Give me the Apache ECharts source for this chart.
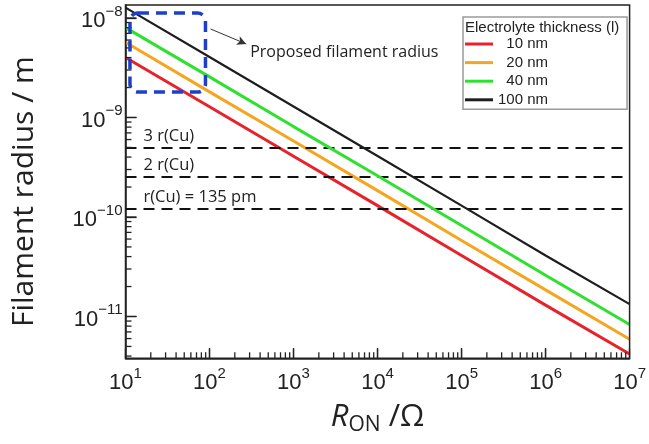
<!DOCTYPE html>
<html><head><meta charset="utf-8">
<script src="https://cdn.jsdelivr.net/npm/echarts@6/dist/echarts.min.js"></script>
<style>html,body{margin:0;padding:0;background:#fff}#c{width:649px;height:444px;background:#fff}</style>
</head><body><div id="c"></div>
<script>
// ---- data ----
const resistance = [10, 100, 1e3, 1e4, 1e5, 1e6, 1e7];
const radius10nm  = [4.0e-9, 1.28e-9, 4.07e-10, 1.30e-10, 4.1e-11, 1.3e-11, 4.2e-12];
const radius20nm  = [5.7e-9, 1.81e-9, 5.8e-10, 1.84e-10, 5.8e-11, 1.85e-11, 5.9e-12];
const radius40nm  = [8.0e-9, 2.56e-9, 8.1e-10, 2.6e-10, 8.2e-11, 2.6e-11, 8.3e-12];
const radius100nm = [1.27e-8, 4.05e-9, 1.29e-9, 4.1e-10, 1.3e-10, 4.1e-11, 1.33e-11];
const seriesNames = ['10 nm', '20 nm', '40 nm', '100 nm'];
const refLevels = [4.97e-10, 2.54e-10, 1.20e-10];
const refLabels = ['3 r(Cu)', '2 r(Cu)', 'r(Cu) = 135 pm'];
const xMajorTicks = [10, 100, 1e3, 1e4, 1e5, 1e6, 1e7];
const yMajorTicks = [1e-12, 1e-11, 1e-10, 1e-9, 1e-8];
const xRange = [10, 1e7];
const yRange = [3.8e-12, 1.35e-8];
const boxX = [11.3, 89.5];
const boxY = [1.12e-8, 1.80e-9];
const arrowX = [103, 273];
const arrowY = [7.75e-9, 5.48e-9];
const noteAt = [305, 4.55e-9];
const noteText = 'Proposed filament radius';
const legendTitle = 'Electrolyte thickness (l)';
const yTitle = 'Filament radius / m';

const colors = ['#e8222a', '#f5a51f', '#2fe02f', '#1e1e1e'];
const widths = [3, 3, 3, 2.2];
const allRadius = [radius10nm, radius20nm, radius40nm, radius100nm];

function minorOf(majors, lo, hi) {
  const out = [];
  majors.forEach(m => { for (let k = 2; k <= 9; k++) { const v = +(m * k).toPrecision(6); if (v > lo && v < hi) out.push(v); } });
  return out;
}
const xMinor = minorOf(xMajorTicks, xRange[0], xRange[1]);
const yMinor = minorOf(yMajorTicks, yRange[0], yRange[1]);
const yMajorIn = yMajorTicks.filter(v => v > yRange[0] && v < yRange[1]);
const xMajorIn = xMajorTicks.filter(v => v > xRange[0] && v < xRange[1]);

// tick rows: [x, y, length, direction (0 = up from bottom edge, 1 = right from left edge)]
const tickRows = []
  .concat(xMajorIn.map(v => [v, yRange[0], 10, 0]))
  .concat(xMinor.map(v => [v, yRange[0], 6, 0]))
  .concat(yMajorIn.map(v => [xRange[0], v, 11, 1]))
  .concat(yMinor.map(v => [xRange[0], v, 6, 1]));

function powLabel(v) {
  const e = Math.round(Math.log10(v));
  return '{b|10}{s|' + (e < 0 ? '\u2212' + (-e) : e) + '}';
}
const labelRich = {
  b: { fontSize: 22, fontFamily: 'Liberation Sans', color: '#222', lineHeight: 28, verticalAlign: 'bottom' },
  s: { fontSize: 15, fontFamily: 'Liberation Sans', color: '#222', lineHeight: 15, verticalAlign: 'top' }
};

const chart = echarts.init(document.getElementById('c'), null, { renderer: 'canvas' });

const series = seriesNames.map((name, i) => ({
  name, type: 'line', xAxisIndex: 0, yAxisIndex: 0,
  data: resistance.map((x, j) => [x, allRadius[i][j]]),
  showSymbol: false, symbol: 'none', silent: true,
  color: colors[i],
  lineStyle: { color: colors[i], width: widths[i] },
  z: 3 + i
}));
series[0].markLine = {
  silent: true, symbol: ['none', 'none'],
  lineStyle: { color: '#111', width: 2, type: [11, 7] },
  label: { show: true, position: 'insideStartTop', formatter: '{b}', color: '#222', fontSize: 16.5, fontFamily: 'Open Sans', distance: [18, 3] },
  data: refLevels.map((v, i) => [{ coord: [xRange[0], v], name: refLabels[i] }, { coord: [xRange[1], v] }])
};
series[3].markLine = {
  silent: true,
  symbol: ['none', 'arrow'], symbolSize: [7, 9],
  lineStyle: { color: '#333', width: 1, type: 'solid' },
  label: { show: false },
  data: [[{ coord: [arrowX[0], arrowY[0]] }, { coord: [arrowX[1], arrowY[1]] }]]
};
// axis tick marks (inside), placed through the axes' own scales
series.push({
  type: 'custom', silent: true, z: 8, xAxisIndex: 0, yAxisIndex: 0,
  encode: { x: 0, y: 1 },
  data: tickRows,
  renderItem: (params, api) => {
    const p = api.coord([api.value(0), api.value(1)]);
    const len = api.value(2);
    const horiz = api.value(3) === 1;
    return { type: 'line',
      shape: horiz ? { x1: p[0], y1: p[1], x2: p[0] + len, y2: p[1] } : { x1: p[0], y1: p[1], x2: p[0], y2: p[1] - len },
      style: { stroke: '#222', lineWidth: 1.3, fill: null } };
  }
});
// plot frame
series.push({
  type: 'custom', silent: true, z: 8, xAxisIndex: 0, yAxisIndex: 0,
  encode: { x: [0, 2], y: [1, 3] },
  data: [[xRange[0], yRange[1], xRange[1], yRange[0]]],
  renderItem: (params, api) => {
    const p1 = api.coord([api.value(0), api.value(1)]);
    const p2 = api.coord([api.value(2), api.value(3)]);
    return { type: 'rect', shape: { x: p1[0], y: p1[1], width: p2[0] - p1[0], height: p2[1] - p1[1] },
      style: { fill: null, stroke: '#222', lineWidth: 1.5 } };
  }
});
// dashed rounded annotation box
series.push({
  type: 'custom', silent: true, z: 10, xAxisIndex: 0, yAxisIndex: 0,
  encode: { x: [0, 2], y: [1, 3] },
  data: [[boxX[0], boxY[0], boxX[1], boxY[1]]],
  renderItem: (params, api) => {
    const p1 = api.coord([api.value(0), api.value(1)]);
    const p2 = api.coord([api.value(2), api.value(3)]);
    return { type: 'rect', shape: { x: p1[0], y: p1[1], width: p2[0] - p1[0], height: p2[1] - p1[1], r: 8 },
      style: { fill: null, stroke: '#1e40c8', lineWidth: 3.5, lineDash: [11, 7] } };
  }
});
// annotation text
series.push({
  type: 'custom', silent: true, z: 10, xAxisIndex: 0, yAxisIndex: 0,
  encode: { x: 0, y: 1 },
  data: [noteAt],
  renderItem: (params, api) => {
    const p = api.coord([api.value(0), api.value(1)]);
    return { type: 'text', x: p[0], y: p[1],
      style: { text: noteText, font: '16px "Open Sans"', fill: '#222', verticalAlign: 'middle', align: 'left' } };
  }
});

chart.setOption({
  animation: false,
  grid: { left: 125.5, right: 16, top: 5, bottom: 85.7 },
  title: {
    text: legendTitle, left: 465, top: 20, padding: 0,
    textStyle: { fontSize: 15, fontFamily: 'Liberation Sans', fontWeight: 'normal', color: '#222' }
  },
  legend: {
    data: seriesNames, orient: 'vertical', left: 463, top: 17, padding: [19, 79, 1.5, 2],
    borderColor: '#9a9a9a', borderWidth: 1.5,
    itemWidth: 28, itemHeight: 3, itemGap: 2.6, icon: 'rect', selectedMode: false,
    formatter: n => (n.length < 6 ? '  ' : '') + n,
    textStyle: { fontSize: 15, fontFamily: 'Liberation Sans', color: '#222', lineHeight: 16 }
  },
  xAxis: {
    type: 'log', min: xRange[0], max: xRange[1], position: 'bottom',
    axisLine: { show: true, lineStyle: { color: '#222', width: 1.5 } },
    axisTick: { show: true, inside: true, length: 10, lineStyle: { color: '#222', width: 1.3 } },
    axisLabel: { formatter: powLabel, rich: labelRich, margin: 8 },
    splitLine: { show: false },
    name: '{i|R}{sub|ON}{n| /\u03A9}', nameLocation: 'middle', nameGap: 41,
    nameTextStyle: {
      rich: {
        i: { fontStyle: 'italic', fontSize: 31, fontFamily: 'Open Sans', color: '#222', lineHeight: 36 },
        sub: { fontSize: 21, fontFamily: 'Open Sans', color: '#222', lineHeight: 20, verticalAlign: 'bottom' },
        n: { fontSize: 31, fontFamily: 'Open Sans', color: '#222', lineHeight: 36 }
      }
    }
  },
  yAxis: {
    type: 'log', min: yRange[0], max: yRange[1], position: 'left',
    axisLine: { show: true, lineStyle: { color: '#222', width: 1.5 } },
    axisTick: { show: true, inside: true, length: 11, lineStyle: { color: '#222', width: 1.3 } },
    axisLabel: { formatter: powLabel, rich: labelRich, margin: 3, showMinLabel: false, showMaxLabel: false },
    splitLine: { show: false },
    name: '{t|' + yTitle + '}{gap|}', nameLocation: 'middle', nameGap: 86,
    nameTextStyle: {
      rich: {
        t: { fontSize: 30, fontFamily: 'Open Sans', color: '#222' },
        gap: { width: 20 }
      }
    }
  },
  series
});
</script>
</body></html>
